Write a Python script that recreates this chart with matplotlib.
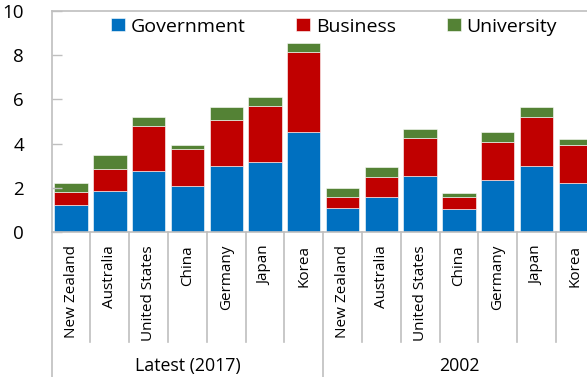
import matplotlib
matplotlib.use("Agg")
import matplotlib.pyplot as plt
import matplotlib.transforms as mtransforms
import numpy as np

# R&D expenditure by performing sector (% of GDP), stacked
countries = ["New Zealand", "Australia", "United States", "China",
             "Germany", "Japan", "Korea"]
groups = ["Latest (2017)", "2002"]

government_2017 = [1.21, 1.84, 2.75, 2.08, 2.99, 3.18, 4.52]
business_2017 = [0.60, 1.01, 2.05, 1.66, 2.09, 2.51, 3.62]
university_2017 = [0.39, 0.65, 0.39, 0.18, 0.56, 0.40, 0.43]

government_2002 = [1.10, 1.58, 2.52, 1.03, 2.37, 2.99, 2.23]
business_2002 = [0.48, 0.91, 1.75, 0.55, 1.70, 2.23, 1.72]
university_2002 = [0.41, 0.45, 0.41, 0.17, 0.45, 0.45, 0.26]

series_names = ["Government", "Business", "University"]
colors = ["#0070C0", "#C00000", "#548235"]
grid_gray = "#BFBFBF"

gov = np.array(government_2017 + government_2002)
bus = np.array(business_2017 + business_2002)
uni = np.array(university_2017 + university_2002)
labels = countries + countries
x = np.arange(len(labels))

plt.rcParams["font.family"] = ["Open Sans", "DejaVu Sans"]

W, H = 587, 377
fig = plt.figure(figsize=(W / 100, H / 100), dpi=100)
ax_left, ax_right, ax_top, ax_bottom = 51.7, 594.7, 11, 232
ax = fig.add_axes([ax_left / W, (H - ax_bottom) / H,
                   (ax_right - ax_left) / W, (ax_bottom - ax_top) / H])

width = 0.86
ax.bar(x, gov, width, color=colors[0], label=series_names[0],
       edgecolor="white", linewidth=0.4)
ax.bar(x, bus, width, bottom=gov, color=colors[1], label=series_names[1],
       edgecolor="white", linewidth=0.4)
ax.bar(x, uni, width, bottom=gov + bus, color=colors[2], label=series_names[2],
       edgecolor="white", linewidth=0.4)

ax.set_xlim(-0.5, len(labels) - 0.5)
ax.set_ylim(0, 10)
ax.set_yticks(np.arange(0, 11, 2))
ax.tick_params(axis="y", direction="in", length=7, width=1, color=grid_gray,
               pad=20, labelsize=13.5, labelcolor="#000000")
ax.set_xticks(x)
ax.set_xticklabels(labels, rotation=90, fontsize=11)
ax.tick_params(axis="x", length=0, pad=9.4)

for side in ["left", "top", "bottom", "right"]:
    ax.spines[side].set_color(grid_gray)
    ax.spines[side].set_linewidth(1.2)

# category separators below the axis, longer ones between groups
trans = mtransforms.blended_transform_factory(ax.transData, fig.transFigure)
y_axis = (H - ax_bottom) / H
y_short = (H - 342) / H
for i in range(1, len(labels)):
    y_end = 0.0 if i == len(countries) else y_short
    ax.plot([i - 0.5, i - 0.5], [y_axis, y_end], color=grid_gray, lw=1.2,
            transform=trans, clip_on=False)
ax.plot([-0.5, -0.5], [y_axis, 0.0], color=grid_gray, lw=1.2,
        transform=trans, clip_on=False)

n = len(countries)
for g, name in enumerate(groups):
    xc = g * n + (n - 1) / 2
    ax.text(xc, (H - 366) / H, name, transform=trans, ha="center",
            va="center", fontsize=12.8)

ax.legend(loc="upper center", bbox_to_anchor=(0.52, 1.023), ncol=3,
          frameon=False, fontsize=14, handlelength=0.72, handleheight=0.62,
          handletextpad=0.3, columnspacing=2.6, borderaxespad=0.2)

fig.savefig("out.png", dpi=100)
